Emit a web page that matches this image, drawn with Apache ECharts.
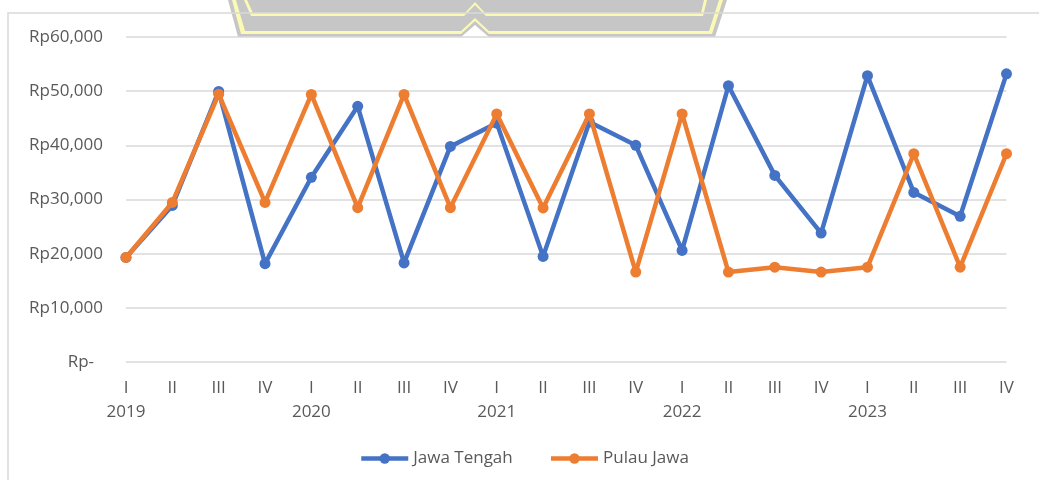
<!DOCTYPE html>
<html>
<head>
<meta charset="utf-8">
<script src="https://cdn.jsdelivr.net/npm/echarts@6/dist/echarts.min.js"></script>
<style>
html,body{margin:0;padding:0;background:#fff;}
#chart{width:1039px;height:480px;}
</style>
</head>
<body>
<div id="chart"></div>
<script>
const quarters = ['I','II','III','IV','I','II','III','IV','I','II','III','IV','I','II','III','IV','I','II','III','IV'];
const years = ['2019','2020','2021','2022','2023'];
const jawaTengah = [19300, 28900, 49950, 18150, 34100, 47200, 18300, 39800, 44100, 19500, 44300, 40000, 20600, 51000, 34450, 23800, 52850, 31300, 26900, 53200];
const pulauJawa = [19300, 29450, 49450, 29450, 49400, 28500, 49400, 28500, 45800, 28450, 45800, 16600, 45800, 16600, 17500, 16600, 17500, 38450, 17500, 38450];
const yTicks = [0, 10000, 20000, 30000, 40000, 50000, 60000];

const textColor = '#595959';
const fontFamily = '"Open Sans", "Noto Sans", sans-serif';
const categories = quarters.map((q, i) => q + '|' + i);

const chart = echarts.init(document.getElementById('chart'), null, {renderer: 'canvas'});
const option = {
  backgroundColor: '#ffffff',
  animation: false,
  textStyle: {fontFamily: fontFamily},
  graphic: [
    {type: 'polygon', z: 0, shape: {points: [[228,0],[727,0],[715,37],[489,37],[475,25],[461,37],[238,37]]}, style: {fill: '#c6c6c6'}},
    {type: 'polygon', z: 0, shape: {points: [[232,0],[723,0],[712,34],[489,34],[475,21],[461,34],[241,34]]}, style: {fill: '#fbfab4'}},
    {type: 'polygon', z: 0, shape: {points: [[236,0],[719,0],[709,31],[489,31],[475,18],[461,31],[245,31]]}, style: {fill: '#c6c6c6'}},
    {type: 'polygon', z: 0, shape: {points: [[244,0],[707,0],[703,16],[486,16],[475,5],[464,16],[251,16]]}, style: {fill: '#fbfab4'}},
    {type: 'polygon', z: 0, shape: {points: [[247,0],[704,0],[701,13],[485,13],[475,2],[465,13],[253,13]]}, style: {fill: '#c6c6c6'}},
    {type: 'rect', z: 1, shape: {x: 8, y: 13, width: 1040, height: 480}, style: {fill: 'none', stroke: '#d9d9d9', lineWidth: 1.5}}
  ],
  grid: {left: 126, right: 32.5, top: 37, bottom: 118},
  legend: {
    left: 359, top: 450, padding: 0,
    itemWidth: 47, itemHeight: 13, itemGap: 36,
    lineStyle: {width: 4.5},
    textStyle: {color: textColor, fontSize: 17, fontFamily: fontFamily},
    data: ['Jawa Tengah', 'Pulau Jawa']
  },
  xAxis: {
    type: 'category',
    boundaryGap: false,
    data: categories,
    axisLine: {show: false},
    axisTick: {show: false},
    axisLabel: {
      interval: 0,
      margin: 14,
      color: textColor,
      fontSize: 17,
      lineHeight: 24,
      fontFamily: fontFamily,
      formatter: function (val) {
        const parts = val.split('|');
        const idx = +parts[1];
        if (idx % 4 === 0) return parts[0] + '\n' + years[idx / 4];
        return parts[0];
      }
    }
  },
  yAxis: {
    type: 'value',
    min: yTicks[0], max: yTicks[yTicks.length - 1], interval: 10000,
    axisLine: {show: false},
    axisTick: {show: false},
    splitLine: {lineStyle: {color: '#d9d9d9', width: 1.5}},
    axisLabel: {
      margin: 23,
      color: textColor,
      fontSize: 17,
      fontFamily: fontFamily,
      formatter: function (v) {
        if (v === 0) return '{z|Rp-}';
        return 'Rp' + v.toLocaleString('en-US');
      },
      rich: {z: {color: textColor, fontSize: 17, fontFamily: fontFamily, padding: [0, 9, 0, 0]}}
    }
  },
  series: [
    {
      name: 'Jawa Tengah', type: 'line', data: jawaTengah,
      symbol: 'circle', symbolSize: 11,
      lineStyle: {color: '#4472C4', width: 4.5},
      itemStyle: {color: '#4472C4'},
      z: 3
    },
    {
      name: 'Pulau Jawa', type: 'line', data: pulauJawa,
      symbol: 'circle', symbolSize: 11,
      lineStyle: {color: '#ED7D31', width: 4.5},
      itemStyle: {color: '#ED7D31'},
      z: 4
    }
  ]
};
chart.setOption(option);
</script>
</body>
</html>
